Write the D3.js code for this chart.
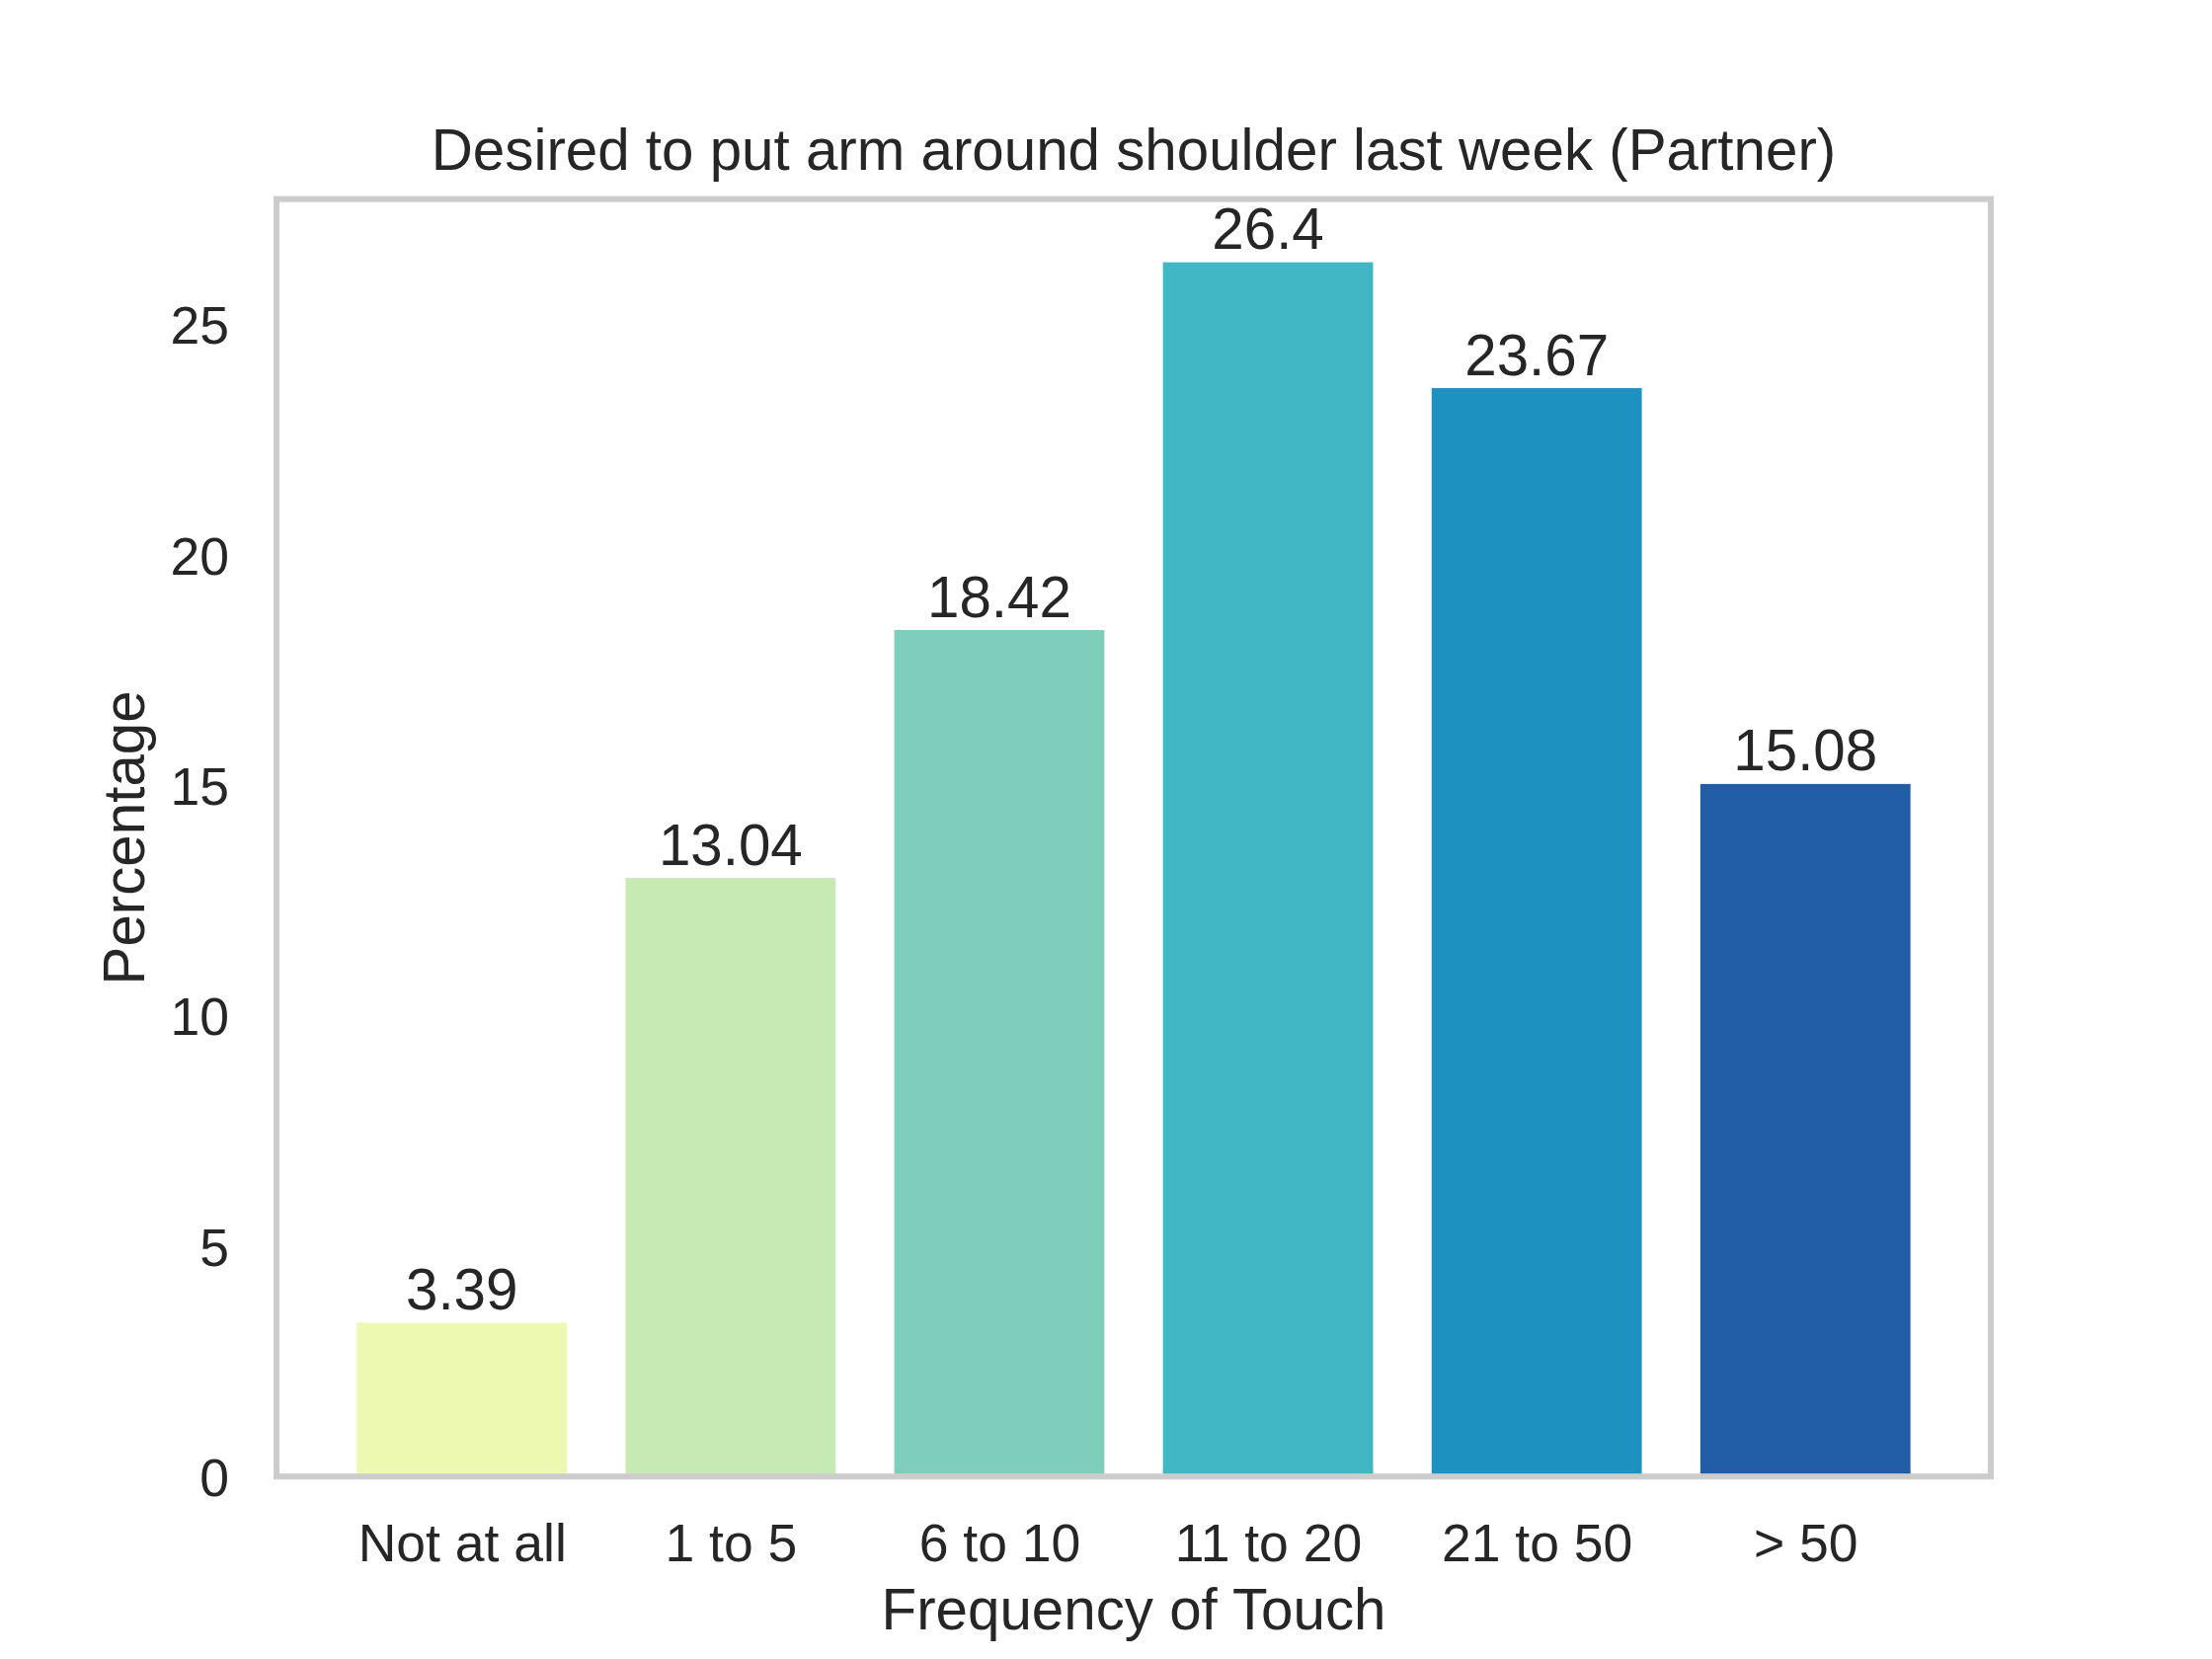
<!DOCTYPE html>
<html>
<head>
<meta charset="utf-8">
<script src="https://cdn.jsdelivr.net/npm/d3@7"></script>
<style>
  html, body { margin: 0; padding: 0; background: #fff; }
  text { font-family: "Liberation Sans", Arial, sans-serif; fill: #262626; }
</style>
</head>
<body>
<div id="svgHolder"></div>
<script>
// chart data
var categories = ["Not at all", "1 to 5", "6 to 10", "11 to 20", "21 to 50", "> 50"];
var percentages = [3.39, 13.04, 18.42, 26.4, 23.67, 15.08];
var barColors = ["#edf8b1", "#c7e9b4", "#7fcdbb", "#41b6c4", "#1d91c0", "#225ea8"];
var yTicks = [0, 5, 10, 15, 20, 25];

var titleText = "Desired to put arm around shoulder last week (Partner)";
var xLabel = "Frequency of Touch";
var yLabel = "Percentage";

// figure layout (matplotlib-like subplot box)
var W = 2240, H = 1680;
var margin = { left: 280, right: 224, top: 201.6, bottom: 184.8 };
var width = W - margin.left - margin.right,
    height = H - margin.top - margin.bottom;

var barWidth = 0.8;

var svg = d3.select("#svgHolder")
    .append("svg")
    .attr("width", W)
    .attr("height", H);

svg.append("rect")
    .attr("width", W)
    .attr("height", H)
    .attr("fill", "#fff");

var main = svg.append("g")
    .attr("transform", "translate(" + margin.left + "," + margin.top + ")");

// bar index scale with matplotlib's 5% margins
var span = (categories.length - 1) + barWidth;
var pad = span * 0.05;
var x = d3.scaleLinear()
    .domain([-barWidth / 2 - pad, categories.length - 1 + barWidth / 2 + pad])
    .range([0, width]);

var y = d3.scaleLinear()
    .domain([0, d3.max(percentages) * 1.05])
    .range([height, 0]);

// bars (white edge like seaborn's patch style)
main.selectAll(".bar")
    .data(percentages)
    .enter().append("rect")
    .attr("class", "bar")
    .attr("x", function (d, i) { return x(i - barWidth / 2); })
    .attr("width", function (d, i) { return x(i + barWidth / 2) - x(i - barWidth / 2); })
    .attr("y", function (d) { return y(d); })
    .attr("height", function (d) { return y(0) - y(d); })
    .attr("fill", function (d, i) { return barColors[i]; })
    .attr("stroke", "#fff")
    .attr("stroke-width", 4.86);

// value labels on top of bars
main.selectAll(".bar-label")
    .data(percentages)
    .enter().append("text")
    .attr("class", "bar-label")
    .attr("x", function (d, i) { return x(i); })
    .attr("y", function (d) { return y(d) - 11; })
    .attr("text-anchor", "middle")
    .style("font-size", "58.3px")
    .text(function (d) { return String(d); });

// y axis
var yAxis = d3.axisLeft(y)
    .tickValues(yTicks)
    .tickSize(0)
    .tickPadding(48)
    .tickFormat(d3.format("d"));

var gy = main.append("g").call(yAxis);
gy.select(".domain").remove();
gy.selectAll("text")
    .attr("dy", "0.36em")
    .style("font-size", "53.5px")
    .style("font-family", "'Liberation Sans', Arial, sans-serif")
    .attr("fill", "#262626");

// x axis
var xAxis = d3.axisBottom(x)
    .tickValues(d3.range(categories.length))
    .tickSize(0)
    .tickPadding(48)
    .tickFormat(function (d) { return categories[d]; });

var gx = main.append("g")
    .attr("transform", "translate(0," + height + ")")
    .call(xAxis);
gx.select(".domain").remove();
gx.selectAll("text")
    .style("font-size", "53.5px")
    .style("font-family", "'Liberation Sans', Arial, sans-serif")
    .attr("fill", "#262626");

// frame (spines drawn over bars)
main.append("rect")
    .attr("x", 0)
    .attr("y", 0)
    .attr("width", width)
    .attr("height", height)
    .attr("fill", "none")
    .attr("stroke", "#cccccc")
    .attr("stroke-width", 6);

// title
svg.append("text")
    .attr("x", margin.left + width / 2)
    .attr("y", 172)
    .attr("text-anchor", "middle")
    .style("font-size", "58.3px")
    .text(titleText);

// axis labels
svg.append("text")
    .attr("x", margin.left + width / 2)
    .attr("y", 1650)
    .attr("text-anchor", "middle")
    .style("font-size", "58.3px")
    .text(xLabel);

svg.append("text")
    .attr("transform", "translate(146," + (margin.top + height / 2) + ") rotate(-90)")
    .attr("text-anchor", "middle")
    .style("font-size", "58.3px")
    .text(yLabel);
</script>
</body>
</html>
